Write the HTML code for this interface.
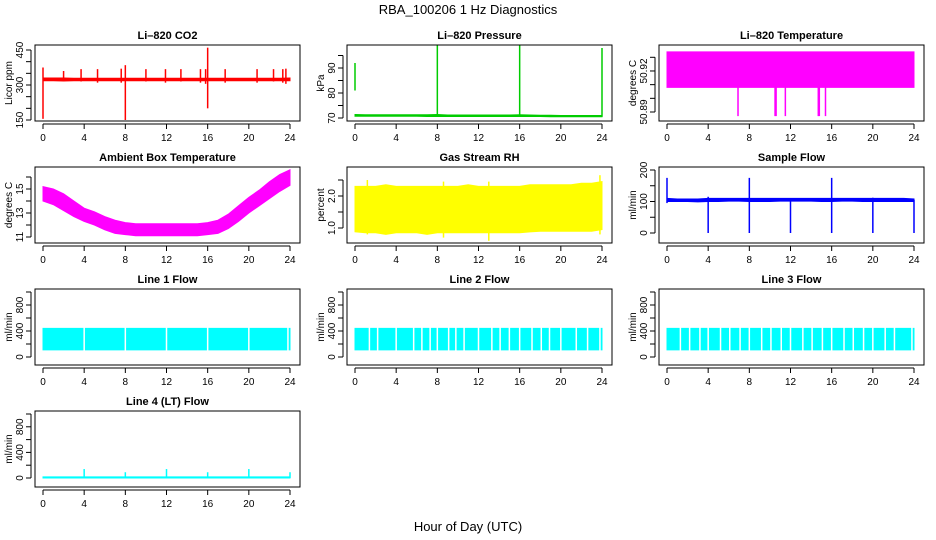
<!DOCTYPE html>
<html><head><meta charset="utf-8"><style>
body{margin:0;background:#fff;}
svg{display:block;font-family:"Liberation Sans",sans-serif;}
</style></head><body>
<svg id="c" width="936" height="540" xmlns="http://www.w3.org/2000/svg">
<text x="468" y="14" text-anchor="middle" font-size="13">RBA_100206  1 Hz Diagnostics</text>
<text x="468" y="531" text-anchor="middle" font-size="13">Hour of Day (UTC)</text>
</svg>
<script>
const hours=[0,1,2,3,4,5,6,7,8,9,10,11,12,13,14,15,16,17,18,19,20,21,22,23,24];
const xTicks=[0,4,8,12,16,20,24];
const co2Lo=[318,318,317,318,318,318,318,318,318,318,318,318,318,318,318,318,318,318,318,318,318,318,318,318,318];
const co2Hi=[330,330,330,329,329,329,329,329,329,329,329,329,329,329,329,329,329,329,329,329,329,329,329,329,330];
const co2Spikes=[[0,155,375],[2,315,360],[3.7,315,368],[5.3,310,368],[7.6,310,370],[8,150,385],[10,315,368],[11.9,310,368],[13.4,315,368],[15.3,310,368],[15.8,305,368],[16,200,460],[17.7,310,368],[20.8,310,368],[22.4,315,368],[23.3,310,368],[23.6,305,370]];
const presLo=[70.7,70.7,70.7,70.7,70.7,70.7,70.7,70.6,70.6,70.6,70.6,70.6,70.6,70.6,70.6,70.6,70.6,70.6,70.6,70.5,70.5,70.5,70.5,70.5,70.5];
const presHi=[71.4,71.3,71.3,71.3,71.3,71.3,71.3,71.3,71.4,71.2,71.2,71.2,71.2,71.2,71.2,71.2,71.3,71.2,71.1,71.1,71.0,71.0,71.0,71.0,71.0];
const presSpikes=[[0,81,92],[8,70.5,99],[16,70.5,99],[24,70.5,98]];
const tempLo=[50.908,50.908,50.908,50.908,50.908,50.908,50.908,50.908,50.908,50.908,50.908,50.908,50.908,50.908,50.908,50.908,50.908,50.908,50.908,50.908,50.908,50.908,50.908,50.908,50.908];
const tempHi=[50.934,50.934,50.934,50.934,50.934,50.934,50.934,50.934,50.934,50.934,50.934,50.934,50.934,50.934,50.934,50.934,50.934,50.934,50.934,50.934,50.934,50.934,50.934,50.934,50.934];
const tempSpikes=[[6.9,50.887,50.91],[10.5,50.887,50.91],[10.6,50.887,50.91],[11.5,50.887,50.91],[14.7,50.887,50.91],[14.8,50.887,50.91],[15.4,50.887,50.91]];
const ambLo=[14.0,13.7,13.2,12.7,12.3,12.0,11.6,11.3,11.2,11.1,11.1,11.1,11.1,11.1,11.1,11.1,11.2,11.3,11.7,12.3,13.0,13.6,14.2,14.8,15.3];
const ambHi=[15.2,15.0,14.6,14.0,13.4,13.1,12.7,12.4,12.2,12.1,12.1,12.1,12.1,12.1,12.1,12.1,12.2,12.4,12.9,13.6,14.3,14.9,15.6,16.2,16.6];
const rhLo=[0.88,0.85,0.85,0.8,0.85,0.85,0.85,0.8,0.85,0.85,0.85,0.85,0.85,0.85,0.85,0.85,0.85,0.88,0.9,0.9,0.9,0.9,0.9,0.9,0.95];
const rhHi=[2.3,2.3,2.3,2.35,2.3,2.3,2.3,2.3,2.3,2.3,2.3,2.35,2.3,2.3,2.3,2.3,2.3,2.35,2.35,2.35,2.35,2.35,2.4,2.4,2.45];
const rhSpikes=[[1.2,0.8,2.5],[8.6,0.7,2.45],[13,0.6,2.45],[23.8,0.8,2.65]];
const sampLo=[100,100,100,99,100,100,101,101,100,100,100,101,101,101,101,100,100,101,101,100,100,100,100,100,100];
const sampHi=[110,108,108,108,110,110,110,110,110,110,110,110,110,110,110,110,110,110,110,110,110,110,110,110,108];
const sampSpikes=[[0,95,175],[4,0,115],[8,0,175],[12,0,110],[16,0,175],[20,0,112],[24,0,105]];
const l1Lo=[110,110,110,110,110,110,110,110,110,110,110,110,110,110,110,110,110,110,110,110,110,110,110,110,110];
const l1Hi=[440,440,440,440,440,440,440,440,440,440,440,440,440,440,440,440,440,440,440,440,440,440,440,440,440];
const l1Gaps=[4,8,12,16,20,23.8];
const l2Gaps=[1.4,2.2,4,5.7,6.5,7.3,8,9.1,9.8,10.6,12,13.3,14.1,15,16,17.2,18.1,18.9,20,21.5,22.6,23.8];
const l3Gaps=[1.3,2.2,3.2,4,5.2,6.1,7.1,8,9.2,10.1,11.1,12,13.2,14.1,15.1,16,17.2,18.1,19.1,20,21.2,22.1,23.8];
const l4Lo=[0,0,0,0,0,0,0,0,0,0,0,0,0,0,0,0,0,0,0,0,0,0,0,0,0];
const l4Hi=[18,18,18,18,18,18,18,18,18,18,18,18,18,18,18,18,18,18,18,18,18,18,18,18,18];
const l4Spikes=[[4,0,140],[8,0,90],[12,0,140],[16,0,90],[20,0,140],[24,0,90]];

const panels=[
 {name:'co2',title:'Li–820 CO2',ylab:'Licor ppm',col:0,row:0,color:'#ff0000',y:[150,75,450,5],ticks:[150,200,250,300,350,400,450],labels:[150,300,450],lo:co2Lo,hi:co2Hi,spikes:co2Spikes},
 {name:'pressure',title:'Li–820 Pressure',ylab:'kPa',col:1,row:0,color:'#00cc00',y:[70,73,95,10.5],ticks:[70,75,80,85,90,95],labels:[70,80,90],lo:presLo,hi:presHi,spikes:presSpikes},
 {name:'temperature',title:'Li–820 Temperature',ylab:'degrees C',col:2,row:0,color:'#ff00ff',y:[50.89,67,50.93,12.3],ticks:[50.89,50.90,50.91,50.92,50.93],labels:[50.89,50.92],fmt:2,lo:tempLo,hi:tempHi,spikes:tempSpikes},
 {name:'ambient',title:'Ambient Box Temperature',ylab:'degrees C',col:0,row:1,color:'#ff00ff',y:[11,70,16,10],ticks:[11,12,13,14,15,16],labels:[11,13,15],lo:ambLo,hi:ambHi,spikes:[]},
 {name:'rh',title:'Gas Stream RH',ylab:'percent',col:1,row:1,color:'#ffff00',y:[1.0,61,2.5,13],ticks:[1.0,1.5,2.0,2.5],labels:[1.0,2.0],fmt:1,lo:rhLo,hi:rhHi,spikes:rhSpikes},
 {name:'sample-flow',title:'Sample Flow',ylab:'ml/min',col:2,row:1,color:'#0000ff',y:[0,66,200,3],ticks:[0,50,100,150,200],labels:[0,100,200],lo:sampLo,hi:sampHi,spikes:sampSpikes},
 {name:'line1',title:'Line 1 Flow',ylab:'ml/min',col:0,row:2,color:'#00ffff',y:[0,68,1000,3],ticks:[0,200,400,600,800,1000],labels:[0,400,800],lo:l1Lo,hi:l1Hi,spikes:[],gaps:l1Gaps},
 {name:'line2',title:'Line 2 Flow',ylab:'ml/min',col:1,row:2,color:'#00ffff',y:[0,68,1000,3],ticks:[0,200,400,600,800,1000],labels:[0,400,800],lo:l1Lo,hi:l1Hi,spikes:[],gaps:l2Gaps},
 {name:'line3',title:'Line 3 Flow',ylab:'ml/min',col:2,row:2,color:'#00ffff',y:[0,68,1000,3],ticks:[0,200,400,600,800,1000],labels:[0,400,800],lo:l1Lo,hi:l1Hi,spikes:[],gaps:l3Gaps},
 {name:'line4',title:'Line 4 (LT) Flow',ylab:'ml/min',col:0,row:3,color:'#00ffff',y:[0,67,1000,3],ticks:[0,200,400,600,800,1000],labels:[0,400,800],lo:l4Lo,hi:l4Hi,spikes:l4Spikes}
];
const svg=document.getElementById('c');
const NS='http://www.w3.org/2000/svg';
function mk(tag,attrs,parent){const e=document.createElementNS(NS,tag);for(const k in attrs)e.setAttribute(k,attrs[k]);(parent||svg).appendChild(e);return e;}
panels.forEach(p=>{
 const L=35+p.col*312, T=45+p.row*122, W=265, H=76;
 const g=mk('g',{});
 
 
 const xs=h=>L+8+h*(247/24);
 const ys=v=>T+p.y[1]+(v-p.y[0])*(p.y[3]-p.y[1])/(p.y[2]-p.y[0]);
 // band
 let pts=hours.map((h,i)=>xs(h)+','+ys(p.hi[i]));
 pts=pts.concat(hours.slice().reverse().map((h,j)=>{const i=hours.length-1-j;return xs(h)+','+ys(p.lo[i]);}));
 const band=mk('polygon',{points:pts.join(' '),fill:p.color,stroke:p.color,'stroke-width':1},g);
 
 
 (p.gaps||[]).forEach(h=>{
  const gl=mk('line',{x1:xs(h),x2:xs(h),y1:ys(p.hi[0])-1,y2:ys(p.lo[0])+1,stroke:'#fff','stroke-width':1.5},g);
  
  
 });
 p.spikes.forEach(s=>{
  const sl=mk('line',{x1:xs(s[0]),x2:xs(s[0]),y1:ys(s[1]),y2:ys(s[2]),stroke:p.color,'stroke-width':1.5},g);
  
  
 });
 const box=mk('rect',{x:L,y:T,width:W,height:H,fill:'none',stroke:'#000','stroke-width':1},g);
 
 
 const t=mk('text',{x:L+W/2,y:T-6,'text-anchor':'middle','font-size':11,'font-weight':'bold'},g);
 t.textContent=p.title;
 
 
 // x axis
 mk('line',{x1:xs(0),x2:xs(24),y1:T+H+3,y2:T+H+3,stroke:'#000'},g);
 xTicks.forEach(h=>{
  mk('line',{x1:xs(h),x2:xs(h),y1:T+H+3,y2:T+H+8,stroke:'#000'},g);
  const xt=mk('text',{x:xs(h),y:T+H+20,'text-anchor':'middle','font-size':10},g);
  xt.textContent=h;
  
  
 });
 // y axis
 const yA=L-4;
 mk('line',{x1:yA,x2:yA,y1:ys(p.ticks[0]),y2:ys(p.ticks[p.ticks.length-1]),stroke:'#000'},g);
 p.ticks.forEach(v=>mk('line',{x1:yA-5,x2:yA,y1:ys(v),y2:ys(v),stroke:'#000'},g));
 p.labels.forEach(v=>{
  const yy=ys(v);
  const yt=mk('text',{x:0,y:0,'text-anchor':'middle','font-size':10,transform:`translate(${yA-8},${yy}) rotate(-90)`},g);
  yt.textContent=p.fmt?v.toFixed(p.fmt):v;
  
  
 });
 const yl=mk('text',{x:0,y:0,'text-anchor':'middle','font-size':10,transform:`translate(${L-23},${T+H/2}) rotate(-90)`},g);
 yl.textContent=p.ylab;
 
 
});
</script>
</body></html>
